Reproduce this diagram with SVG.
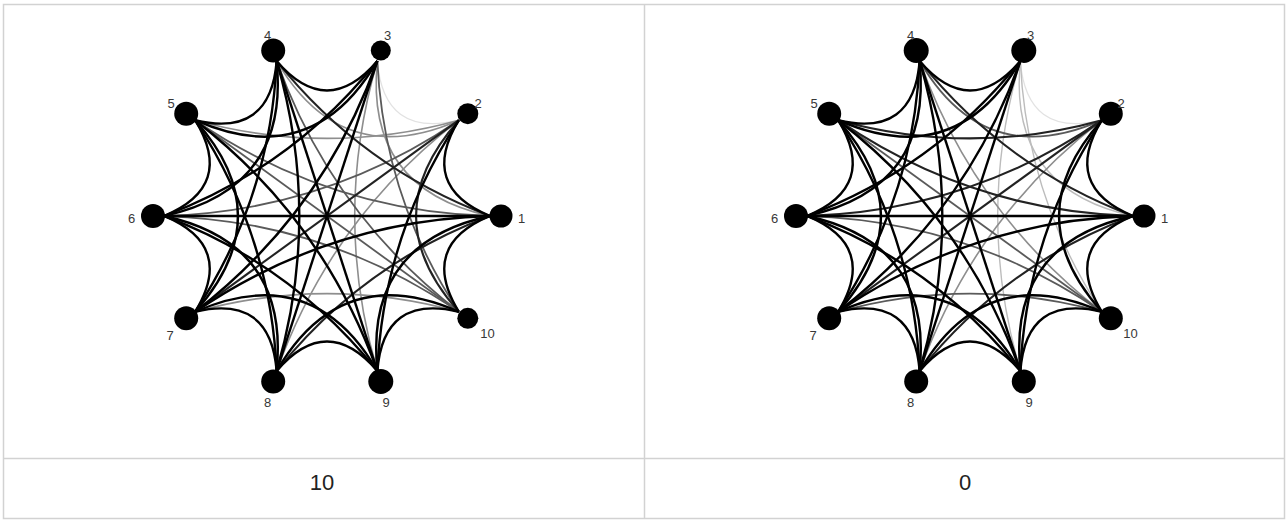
<svg xmlns="http://www.w3.org/2000/svg" xmlns:xlink="http://www.w3.org/1999/xlink" width="1288" height="520" viewBox="0 0 1288 520">
  <style>
    .grid { fill: none; stroke: #d2d2d2; stroke-width: 1.5; }
    .node circle { fill: #000; }
    .node text { font-family: "Liberation Sans", Arial, sans-serif; font-size: 13px; fill: #383838; text-anchor: middle; }
    .caption { font-family: "Liberation Sans", Arial, sans-serif; font-size: 22px; fill: #222; text-anchor: middle; }
    .k0 { stroke: #000; stroke-width: 2.4; }
    .k1 { stroke: #222; stroke-width: 2.1; }
    .k2 { stroke: #5a5a5a; stroke-width: 1.8; }
    .k3 { stroke: #8e8e8e; stroke-width: 1.6; }
    .k4 { stroke: #bcbcbc; stroke-width: 1.4; }
    .k5 { stroke: #e2e2e2; stroke-width: 1.3; }
  </style>
  <defs>
    <!-- canonical chords, bisector pointing east; step = node gap (36deg each) -->
    <path id="e1" d="M155,-50.4 Q96.1,0 155,50.4" fill="none"/>
    <path id="e2" d="M131.9,-95.8 Q46.2,0 131.9,95.8" fill="none"/>
    <path id="e3" d="M95.8,-131.9 Q59.4,0 95.8,131.9" fill="none"/>
    <path id="e4" d="M50.4,-155 Q5,0 50.4,155" fill="none"/>
    <path id="e5" d="M0,-163 L0,163" fill="none"/>
  </defs>

  <!-- table frame -->
  <g id="table">
    <rect class="grid" x="3.5" y="4.5" width="1281" height="514"/>
    <line class="grid" x1="644.5" y1="4.5" x2="644.5" y2="518.5"/>
    <line class="grid" x1="3.5" y1="458.5" x2="1284.5" y2="458.5"/>
    <text class="caption" x="322" y="490">10</text>
    <text class="caption" x="965" y="490">0</text>
  </g>

  <!-- left network -->
  <g id="left-connectors" transform="translate(327,216)">
    <use href="#e1" class="k5" transform="rotate(-54)"/>
    <use href="#e2" class="k3" transform="rotate(-36)"/>
    <use href="#e2" class="k3" transform="rotate(-72)"/>
    <use href="#e3" class="k3" transform="rotate(-90)"/>
    <use href="#e3" class="k3" transform="rotate(-270)"/>
    <use href="#e4" class="k3" transform="rotate(-324)"/>
    <use href="#e4" class="k3"/>
    <use href="#e3" class="k2" transform="rotate(-18)"/>
    <use href="#e4" class="k2" transform="rotate(-72)"/>
    <use href="#e4" class="k2" transform="rotate(-108)"/>
    <use href="#e4" class="k2" transform="rotate(-252)"/>
    <use href="#e4" class="k2" transform="rotate(-36)"/>
    <use href="#e5" class="k2" transform="rotate(-234)"/>
    <use href="#e2" class="k1"/>
    <use href="#e3" class="k1" transform="rotate(-54)"/>
    <use href="#e3" class="k1" transform="rotate(-306)"/>
    <use href="#e5" class="k1" transform="rotate(-126)"/>
    <use href="#e1" class="k0" transform="rotate(-18)"/>
    <use href="#e1" class="k0" transform="rotate(-90)"/>
    <use href="#e1" class="k0" transform="rotate(-126)"/>
    <use href="#e1" class="k0" transform="rotate(-162)"/>
    <use href="#e1" class="k0" transform="rotate(-198)"/>
    <use href="#e1" class="k0" transform="rotate(-234)"/>
    <use href="#e1" class="k0" transform="rotate(-270)"/>
    <use href="#e1" class="k0" transform="rotate(-306)"/>
    <use href="#e1" class="k0" transform="rotate(-342)"/>
    <use href="#e2" class="k0" transform="rotate(-108)"/>
    <use href="#e2" class="k0" transform="rotate(-144)"/>
    <use href="#e2" class="k0" transform="rotate(-180)"/>
    <use href="#e2" class="k0" transform="rotate(-216)"/>
    <use href="#e2" class="k0" transform="rotate(-252)"/>
    <use href="#e2" class="k0" transform="rotate(-288)"/>
    <use href="#e2" class="k0" transform="rotate(-324)"/>
    <use href="#e3" class="k0" transform="rotate(-126)"/>
    <use href="#e3" class="k0" transform="rotate(-162)"/>
    <use href="#e3" class="k0" transform="rotate(-198)"/>
    <use href="#e3" class="k0" transform="rotate(-234)"/>
    <use href="#e3" class="k0" transform="rotate(-342)"/>
    <use href="#e4" class="k0" transform="rotate(-144)"/>
    <use href="#e4" class="k0" transform="rotate(-180)"/>
    <use href="#e4" class="k0" transform="rotate(-216)"/>
    <use href="#e4" class="k0" transform="rotate(-288)"/>
    <use href="#e5" class="k0" transform="rotate(-90)"/>
    <use href="#e5" class="k0" transform="rotate(-162)"/>
    <use href="#e5" class="k0" transform="rotate(-198)"/>
  </g>

  <g id="left-n1" class="node"><circle cx="501" cy="216" r="11.5"/><text x="521.5" y="222.5">1</text></g>
  <g id="left-n2" class="node"><circle cx="467.8" cy="113.7" r="10.5"/><text x="478" y="108">2</text></g>
  <g id="left-n3" class="node"><circle cx="380.8" cy="50.5" r="10"/><text x="387.5" y="40">3</text></g>
  <g id="left-n4" class="node"><circle cx="273.2" cy="50.5" r="12"/><text x="267.5" y="40">4</text></g>
  <g id="left-n5" class="node"><circle cx="186.2" cy="113.7" r="12"/><text x="171" y="108">5</text></g>
  <g id="left-n6" class="node"><circle cx="153" cy="216" r="12"/><text x="131.5" y="222.5">6</text></g>
  <g id="left-n7" class="node"><circle cx="186.2" cy="318.3" r="12"/><text x="170" y="340">7</text></g>
  <g id="left-n8" class="node"><circle cx="273.2" cy="381.5" r="12"/><text x="267.5" y="407">8</text></g>
  <g id="left-n9" class="node"><circle cx="380.8" cy="381.5" r="12.5"/><text x="386" y="407">9</text></g>
  <g id="left-n10" class="node"><circle cx="467.8" cy="318.3" r="10.5"/><text x="487.5" y="338">10</text></g>

  <!-- right network -->
  <g id="right-connectors" transform="translate(970,216)">
    <use href="#e1" class="k5" transform="rotate(-54)"/>
    <use href="#e2" class="k4" transform="rotate(-36)"/>
    <use href="#e3" class="k4" transform="rotate(-18)"/>
    <use href="#e4" class="k4"/>
    <use href="#e4" class="k3" transform="rotate(-324)"/>
    <use href="#e4" class="k3" transform="rotate(-36)"/>
    <use href="#e2" class="k2" transform="rotate(-72)"/>
    <use href="#e3" class="k2" transform="rotate(-270)"/>
    <use href="#e4" class="k2" transform="rotate(-252)"/>
    <use href="#e5" class="k2" transform="rotate(-234)"/>
    <use href="#e3" class="k1" transform="rotate(-54)"/>
    <use href="#e3" class="k1" transform="rotate(-90)"/>
    <use href="#e3" class="k1" transform="rotate(-306)"/>
    <use href="#e4" class="k1" transform="rotate(-72)"/>
    <use href="#e4" class="k1" transform="rotate(-108)"/>
    <use href="#e5" class="k1" transform="rotate(-126)"/>
    <use href="#e1" class="k0" transform="rotate(-18)"/>
    <use href="#e1" class="k0" transform="rotate(-90)"/>
    <use href="#e1" class="k0" transform="rotate(-126)"/>
    <use href="#e1" class="k0" transform="rotate(-162)"/>
    <use href="#e1" class="k0" transform="rotate(-198)"/>
    <use href="#e1" class="k0" transform="rotate(-234)"/>
    <use href="#e1" class="k0" transform="rotate(-270)"/>
    <use href="#e1" class="k0" transform="rotate(-306)"/>
    <use href="#e1" class="k0" transform="rotate(-342)"/>
    <use href="#e2" class="k0"/>
    <use href="#e2" class="k0" transform="rotate(-108)"/>
    <use href="#e2" class="k0" transform="rotate(-144)"/>
    <use href="#e2" class="k0" transform="rotate(-180)"/>
    <use href="#e2" class="k0" transform="rotate(-216)"/>
    <use href="#e2" class="k0" transform="rotate(-252)"/>
    <use href="#e2" class="k0" transform="rotate(-288)"/>
    <use href="#e2" class="k0" transform="rotate(-324)"/>
    <use href="#e3" class="k0" transform="rotate(-126)"/>
    <use href="#e3" class="k0" transform="rotate(-162)"/>
    <use href="#e3" class="k0" transform="rotate(-198)"/>
    <use href="#e3" class="k0" transform="rotate(-234)"/>
    <use href="#e3" class="k0" transform="rotate(-342)"/>
    <use href="#e4" class="k0" transform="rotate(-144)"/>
    <use href="#e4" class="k0" transform="rotate(-180)"/>
    <use href="#e4" class="k0" transform="rotate(-216)"/>
    <use href="#e4" class="k0" transform="rotate(-288)"/>
    <use href="#e5" class="k0" transform="rotate(-90)"/>
    <use href="#e5" class="k0" transform="rotate(-162)"/>
    <use href="#e5" class="k0" transform="rotate(-198)"/>
  </g>

  <g id="right-n1" class="node"><circle cx="1144" cy="216" r="11.5"/><text x="1164.5" y="222.5">1</text></g>
  <g id="right-n2" class="node"><circle cx="1110.8" cy="113.7" r="12"/><text x="1121" y="108">2</text></g>
  <g id="right-n3" class="node"><circle cx="1023.8" cy="50.5" r="12.5"/><text x="1030.5" y="40">3</text></g>
  <g id="right-n4" class="node"><circle cx="916.2" cy="50.5" r="12.5"/><text x="910.5" y="40">4</text></g>
  <g id="right-n5" class="node"><circle cx="829.2" cy="113.7" r="12"/><text x="814" y="108">5</text></g>
  <g id="right-n6" class="node"><circle cx="796" cy="216" r="12"/><text x="774.5" y="222.5">6</text></g>
  <g id="right-n7" class="node"><circle cx="829.2" cy="318.3" r="12"/><text x="813" y="340">7</text></g>
  <g id="right-n8" class="node"><circle cx="916.2" cy="381.5" r="12"/><text x="910.5" y="407">8</text></g>
  <g id="right-n9" class="node"><circle cx="1023.8" cy="381.5" r="12"/><text x="1029" y="407">9</text></g>
  <g id="right-n10" class="node"><circle cx="1110.8" cy="318.3" r="12"/><text x="1130.5" y="338">10</text></g>
</svg>
